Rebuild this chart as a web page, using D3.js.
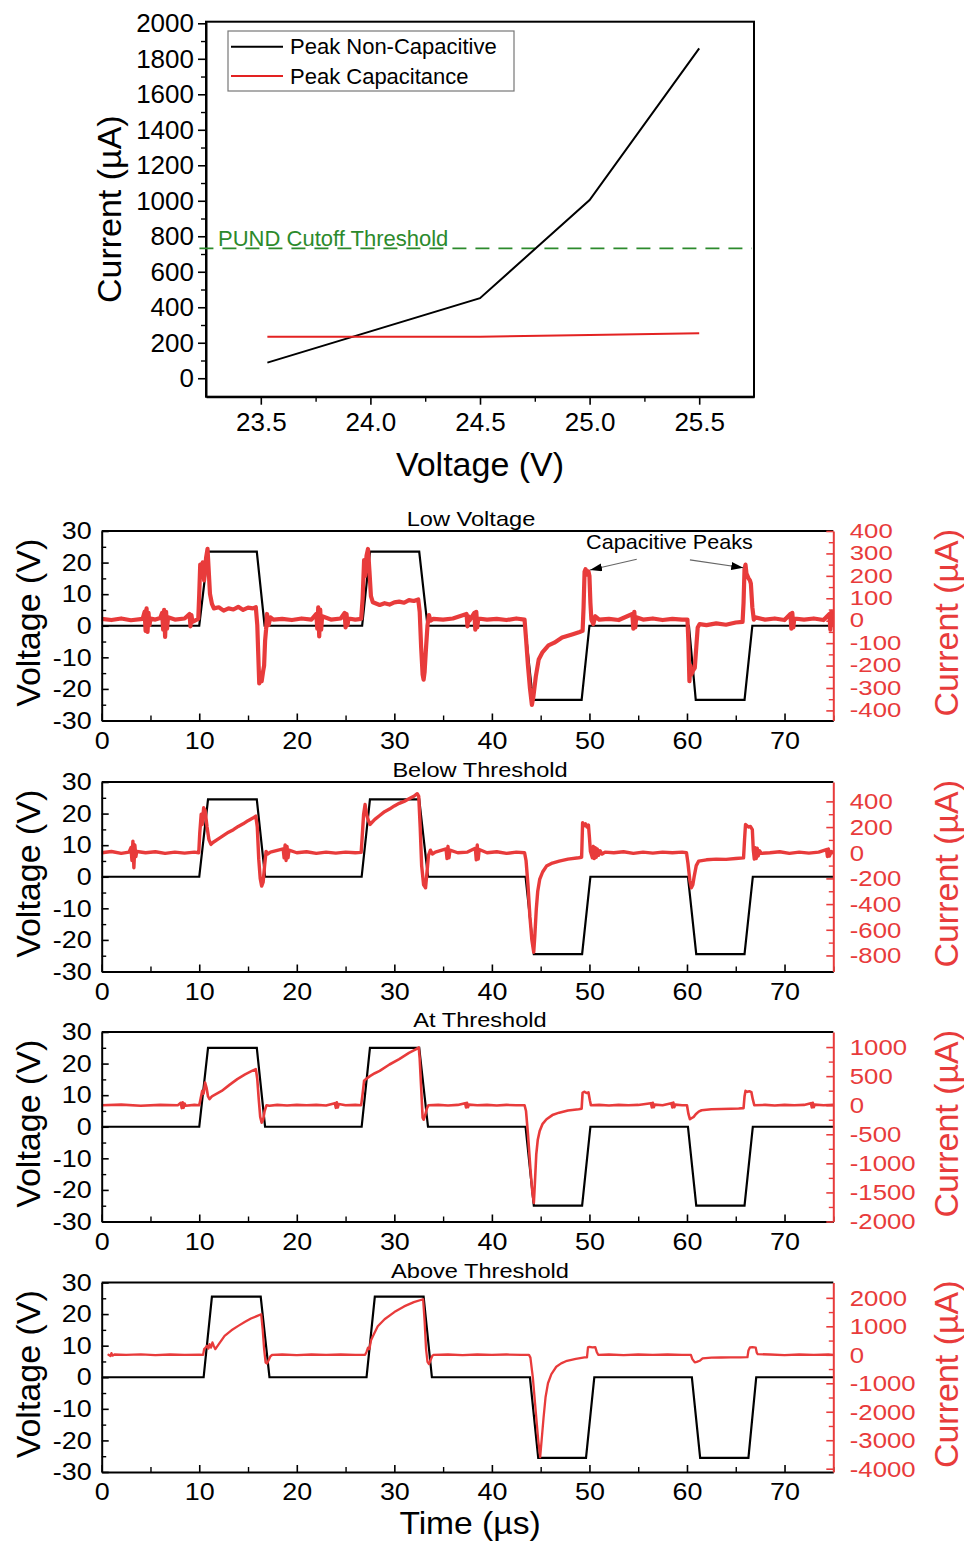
<!DOCTYPE html>
<html>
<head>
<meta charset="utf-8">
<script src="https://cdn.jsdelivr.net/npm/d3@7"></script>
<style>
  html, body { margin: 0; padding: 0; background: #fff; }
  svg { display: block; }
</style>
</head>
<body>
<svg id="fig" width="964" height="1544"></svg>
<script>
// ---------------- Peak current vs. pulse voltage ----------------
const peakVoltages = [23.53, 24.5, 25.0, 25.5];
const peakNonCapacitive = [88, 451, 1004, 1859];
const peakCapacitance = [234, 234, 243, 253];
const cutoffThreshold = 732;
const cutoffLabel = "PUND Cutoff Threshold";
const legendLabels = ["Peak Non-Capacitive", "Peak Capacitance"];
const summaryVoltTicks = [23.5, 24.0, 24.5, 25.0, 25.5];
const summaryCurrentTicks = [0, 200, 400, 600, 800, 1000, 1200, 1400, 1600, 1800, 2000];

// ---------------- PUND waveforms ----------------
const panelTitles = ["Low Voltage", "Below Threshold", "At Threshold", "Above Threshold"];
const timeTicks = [0, 10, 20, 30, 40, 50, 60, 70];
const voltTicks = [-30, -20, -10, 0, 10, 20, 30];
const currentTicks1 = [-400, -300, -200, -100, 0, 100, 200, 300, 400];
const currentTicks2 = [-800, -600, -400, -200, 0, 200, 400];
const currentTicks3 = [-2000, -1500, -1000, -500, 0, 500, 1000];
const currentTicks4 = [-4000, -3000, -2000, -1000, 0, 1000, 2000];
const currentExtents = [[-445, 400], [-925, 551], [-2000, 1259], [-4116, 2539]];

// applied voltage (t in µs, V)
const voltage1 = [[0,0],[10.0,0],[10.9,23.5],[15.9,23.5],[16.7,0],[26.7,0],[27.5,23.5],[32.55,23.5],[33.4,0],[43.4,0],[44.2,-23.5],[49.2,-23.5],[50.0,0],[60.2,0],[60.9,-23.5],[65.9,-23.5],[66.7,0],[75,0]];
const voltage2 = [[0,0],[10.0,0],[10.9,24.5],[15.9,24.5],[16.75,0],[26.65,0],[27.5,24.5],[32.55,24.5],[33.45,0],[43.45,0],[44.3,-24.5],[49.25,-24.5],[50.1,0],[60.1,0],[60.95,-24.5],[65.9,-24.5],[66.75,0],[75,0]];
const voltage3 = [[0,0],[10.0,0],[10.9,25],[15.9,25],[16.75,0],[26.65,0],[27.5,25],[32.55,25],[33.45,0],[43.45,0],[44.3,-25],[49.25,-25],[50.1,0],[60.1,0],[60.95,-25],[65.9,-25],[66.75,0],[75,0]];
const voltage4 = [[0,0],[10.45,0],[11.3,25.5],[16.3,25.5],[17.2,0],[27.15,0],[28.0,25.5],[33.0,25.5],[33.85,0],[43.9,0],[44.75,-25.5],[49.65,-25.5],[50.5,0],[60.5,0],[61.35,-25.5],[66.3,-25.5],[67.1,0],[75,0]];

// measured current (t in µs, µA)
const current1 = [[0,8],[1,3],[2,10],[3,2],[4.2,8],[4.4,40],[4.5,-45],[4.6,55],[4.7,-50],[4.8,35],[4.9,-20],[5.0,10],[5.5,5],[6.0,12],[6.2,35],[6.3,-40],[6.4,48],[6.5,-72],[6.6,40],[6.7,-35],[6.8,15],[7.5,5],[8.5,10],[9.0,30],[9.1,-25],[9.2,25],[9.3,-5],[9.9,8],
  [10.0,120],[10.1,250],[10.2,200],[10.35,260],[10.5,180],[10.7,280],[10.85,320],[10.95,240],[11.1,120],[11.3,75],[11.5,55],[12,60],[12.5,45],[13,55],[13.5,50],[14,62],[14.5,48],[15,58],[15.5,55],[15.8,60],
  [15.95,-20],[16.05,-150],[16.15,-280],[16.25,-240],[16.4,-270],[16.55,-225],[16.65,-200],[16.75,-90],[16.85,-40],[16.95,30],[17.1,-20],[17.3,15],[17.6,5],[18.5,8],[19.5,3],[20.5,10],[21.5,5],
  [22.0,30],[22.1,-35],[22.2,60],[22.3,-70],[22.4,50],[22.5,-40],[22.6,20],[23.5,5],[24.5,10],[24.9,35],[25.0,-30],[25.1,30],[25.2,-20],[25.3,10],[26.0,5],[26.6,8],
  [26.75,100],[26.9,270],[27.0,200],[27.15,290],[27.3,320],[27.45,220],[27.6,110],[27.8,82],[28.5,70],[29,78],[29.5,72],[30,82],[30.5,85],[31,80],[31.5,92],[32,88],[32.45,95],
  [32.6,40],[32.75,-120],[32.9,-240],[33.0,-263],[33.1,-230],[33.25,-120],[33.4,-20],[33.55,25],[33.7,0],[34,8],[35,5],[36,10],
  [37.4,30],[37.5,-25],[37.6,20],[37.7,0],[38.2,35],[38.3,-40],[38.4,40],[38.5,-30],[38.6,10],[39.5,5],[40.5,8],[41.5,3],[42.5,10],[43.35,5],
  [43.5,-80],[43.7,-200],[43.9,-300],[44.1,-375],[44.25,-340],[44.5,-250],[44.8,-173],[45.2,-140],[45.8,-110],[46.4,-98],[47.2,-75],[48.3,-60],[49.0,-50],[49.3,-45],
  [49.4,60],[49.5,218],[49.6,230],[49.75,205],[49.9,220],[50.0,200],[50.1,80],[50.2,5],[50.4,-15],[50.6,20],[51,5],[52,8],[53,3],
  [54.4,30],[54.5,-35],[54.6,40],[54.7,-30],[54.8,15],[55.5,5],[56.5,10],[57.5,3],[58.5,8],[59.5,5],[60.05,5],
  [60.15,-100],[60.25,-270],[60.35,-200],[60.45,-240],[60.6,-224],[60.8,-210],[60.95,-120],[61.1,-30],[61.3,-15],[62,-20],[63,-12],[64,-18],[65,-8],[65.7,-5],
  [65.8,80],[65.9,232],[66.0,250],[66.1,210],[66.3,190],[66.45,180],[66.55,165],[66.7,60],[66.85,5],[67.0,15],[68,5],[69,10],[70,3],
  [70.6,30],[70.7,-35],[70.8,35],[70.9,-30],[71.0,10],[72,5],[73,10],[74,3],[74.6,30],[74.7,-40],[74.8,40],[74.9,-20],[75,10]];

const current2 = [[0,0],[1,10],[2,-5],[2.8,5],[3.0,40],[3.1,-60],[3.2,90],[3.3,-117],[3.4,60],[3.5,-30],[3.6,10],[4.5,0],[5.5,8],[6.5,-5],[7.5,5],[8.5,-3],[9.5,5],[9.95,0],
  [10.05,150],[10.2,300],[10.3,220],[10.45,350],[10.6,330],[10.8,200],[11.0,100],[11.2,65],[11.4,80],[12,110],[12.5,135],[13,160],[13.5,180],[14,205],[14.5,225],[15,250],[15.5,270],[15.8,285],
  [15.95,200],[16.1,-50],[16.25,-200],[16.4,-260],[16.55,-230],[16.7,-100],[16.85,10],[17.0,-10],[17.3,5],
  [18.6,30],[18.7,-40],[18.8,60],[18.9,-60],[19.0,50],[19.1,-40],[19.2,20],[20,0],[21,8],[22,-5],[23,5],[24,-3],[25,5],[26,0],[26.6,3],
  [26.7,120],[26.85,300],[27.0,376],[27.15,300],[27.3,260],[27.5,220],[28,260],[28.5,290],[29,320],[29.5,340],[30,365],[30.5,385],[31,400],[31.5,420],[32,440],[32.35,460],[32.5,440],
  [32.65,200],[32.8,-100],[33.0,-250],[33.2,-273],[33.35,-150],[33.5,-20],[33.7,20],[33.9,-10],[34.2,5],
  [35.3,30],[35.4,-45],[35.5,50],[35.6,-40],[35.7,20],[36.5,0],[37.5,5],[38.3,35],[38.4,-55],[38.5,60],[38.6,-50],[38.7,25],[39.5,0],[40.5,8],[41.5,-5],[42.5,5],[43.35,0],
  [43.5,-60],[43.7,-250],[43.9,-500],[44.1,-680],[44.29,-775],[44.4,-650],[44.55,-442],[44.7,-300],[44.9,-208],[45.2,-150],[45.6,-104],[46.2,-80],[46.9,-65],[47.8,-50],[48.9,-39],[49.2,-35],
  [49.3,234],[49.45,210],[49.6,225],[49.75,200],[49.9,215],[50.0,120],[50.1,12],
  [50.3,-40],[50.4,50],[50.5,-45],[50.6,40],[50.7,-35],[50.8,30],[50.95,-20],[51.1,15],[51.3,-10],[51.6,5],[52.5,0],[53.5,8],[54.5,-5],[55.5,5],[56.5,-3],[57.5,5],[58.5,0],[59.5,5],[59.95,0],
  [60.1,-80],[60.3,-220],[60.45,-273],[60.6,-250],[60.75,-180],[60.95,-100],[61.2,-65],[62,-55],[63,-50],[64,-52],[65,-45],[65.8,-40],
  [65.9,100],[66.0,220],[66.15,210],[66.3,200],[66.5,205],[66.7,180],[66.8,20],
  [66.9,-50],[67.0,40],[67.1,-45],[67.2,35],[67.3,-25],[67.45,15],[67.6,-5],[68.5,0],[69.5,8],[70.5,-5],[71.5,5],[72.5,-3],[73.5,5],[74.3,25],[74.4,-30],[74.5,30],[74.6,-25],[74.8,10],[75,0]];

const current3 = [[0,0],[2,10],[4,-10],[6,5],[7.8,0],[8.1,40],[8.2,-50],[8.3,50],[8.4,-45],[8.5,30],[8.6,-10],[9.5,5],[10.0,0],
  [10.15,120],[10.3,246],[10.45,200],[10.6,390],[10.75,300],[10.9,150],[11.05,103],[11.3,150],[12.3,246],[13.1,350],[13.9,448],[14.7,530],[15.4,590],[15.8,620],
  [15.95,450],[16.1,100],[16.25,-200],[16.4,-300],[16.55,-250],[16.7,-100],[16.9,0],[17.2,-10],[18,5],[19,-5],[20,5],[21,0],[22,5],[23,-5],
  [23.9,35],[24.0,-45],[24.1,50],[24.2,-40],[24.3,20],[25,0],[26,5],[26.6,0],
  [26.75,200],[26.9,420],[27.1,450],[27.5,500],[28,550],[28.5,591],[29.5,700],[30.5,793],[31.5,900],[32.2,960],[32.5,993],
  [32.6,800],[32.75,300],[32.9,-213],[33.0,-250],[33.15,-180],[33.35,-50],[33.5,0],[34.5,5],[35.5,-5],[36.5,5],
  [37.25,35],[37.35,-40],[37.45,40],[37.55,-35],[37.65,10],[38.5,0],[39.5,5],[40.5,-5],[41.5,5],[42.5,0],[43.35,0],
  [43.5,-100],[43.7,-500],[43.95,-1100],[44.15,-1500],[44.3,-1680],[44.42,-1300],[44.55,-845],[44.7,-600],[44.9,-443],[45.2,-320],[45.6,-241],[46.2,-170],[46.9,-128],[47.8,-90],[48.9,-69],[49.2,-60],
  [49.3,217],[49.5,230],[49.7,210],[49.9,220],[50.05,80],[50.15,0],[51,5],[52,-5],[53,5],[54,0],[55,5],
  [56.3,35],[56.4,-40],[56.5,40],[56.6,-35],[56.7,10],[57.5,0],[58.4,35],[58.5,-40],[58.6,45],[58.7,-35],[58.8,10],[59.5,0],[60.0,0],
  [60.15,-150],[60.3,-241],[60.5,-220],[60.7,-200],[60.9,-155],[61.2,-110],[61.5,-86],[62.5,-70],[63.5,-65],[64.5,-60],[65.3,-57],[65.8,-50],
  [65.9,150],[66.0,246],[66.2,230],[66.4,240],[66.6,225],[66.75,100],[66.9,0],[68,5],[69,-5],[70,5],[71,0],[72,5],
  [72.7,35],[72.8,-40],[72.9,40],[73.0,-35],[73.1,10],[74,0],[75,5]];

const current4 = [[0.7,0],[0.9,-40],[1.0,60],[1.1,-30],[1.3,10],[2.5,0],[4,15],[5.5,-10],[7,10],[8.5,-5],[10.0,5],[10.4,0],
  [10.5,200],[10.65,250],[10.8,316],[10.95,220],[11.05,374],[11.2,250],[11.35,433],[11.5,300],[11.65,200],[11.95,350],[12.6,666],[13.3,860],[14.0,1016],[14.7,1160],[15.3,1273],[15.9,1360],[16.35,1425],
  [16.5,900],[16.65,200],[16.8,-268],[16.95,-303],[17.1,-200],[17.3,-50],[17.5,0],[18.5,10],[20,-10],[21.5,10],[23,-5],[24.5,10],[26,-5],[27.0,0],
  [27.15,100],[27.3,250],[27.45,200],[27.6,500],[27.8,650],[28.3,1000],[29,1250],[30,1500],[31,1700],[32,1850],[32.95,1950],
  [33.1,1200],[33.25,200],[33.4,-250],[33.55,-326],[33.7,-200],[33.9,-30],[34.05,0],[35.5,10],[37,-10],[38.5,10],[40,-5],[41.5,10],[43,0],[43.8,0],
  [43.95,-100],[44.2,-800],[44.5,-2000],[44.75,-3000],[44.95,-3594],[45.1,-3000],[45.3,-2200],[45.5,-1492],[45.75,-1000],[46.1,-676],[46.6,-420],[47.1,-300],[47.7,-210],[48.6,-140],[49.5,-92],[49.75,-90],
  [49.85,259],[50.0,280],[50.3,260],[50.6,270],[50.75,100],[50.9,0],[52,10],[53.5,-10],[55,10],[56.5,-5],[58,10],[59.5,-5],[60.4,0],
  [60.55,-150],[60.8,-268],[61.0,-250],[61.3,-210],[61.6,-127],[62.5,-100],[63.5,-95],[64.5,-92],[65.5,-90],[66.2,-85],
  [66.3,150],[66.45,259],[66.7,270],[66.9,260],[67.05,250],[67.15,80],[67.25,25],[68.5,10],[70,-10],[71.5,10],[73,0],[74.5,10],[75,0]];

// "Capacitive Peaks" callout on the first panel (t in µs, current in µA)
const calloutText = "Capacitive Peaks";
const calloutAnchor = [58.2, 320];
const calloutArrows = [[[54.85, 274], [50.06, 226]], [[60.3, 271], [65.77, 236]]];

// ---------------- drawing ----------------
const FONT = '"Liberation Sans", Arial, Helvetica, sans-serif';
const RED = "#e83b3b";
const GREEN = "#2c8a2c";
const svg = d3.select("#fig");

function label(parent, str, x, y, opt) {
  const t = `translate(${x},${y})` + (opt.rotate ? ` rotate(${opt.rotate})` : "") + (opt.sx ? ` scale(${opt.sx},1)` : "");
  const g = parent.append("g").attr("transform", t);
  g.append("text")
    .attr("text-anchor", opt.anchor || "middle")
    .attr("font-family", FONT)
    .attr("font-size", opt.size)
    .attr("fill", opt.fill || "#000")
    .text(str);
  return g;
}

function styleAxis(sel, size, color, sx) {
  sel.attr("font-family", FONT).attr("font-size", size).attr("color", color);
  sel.select(".domain").attr("stroke-width", 2);
  sel.selectAll(".tick line").attr("stroke-width", 1.6);
  if (sx) sel.selectAll(".tick text").attr("transform", `scale(${sx},1)`);
}

function minor(parent, gen, transform, color) {
  parent.append("g").attr("transform", transform).call(gen)
    .call(g => {
      g.select(".domain").remove();
      g.selectAll(".tick line").attr("stroke-width", 1.4);
      g.attr("color", color);
    });
}

function halfSteps(ticks) {
  const out = [];
  for (let i = 0; i < ticks.length - 1; i++) out.push((ticks[i] + ticks[i + 1]) / 2);
  return out;
}

// ===== summary chart =====
{
  const L = 206, R = 754, T = 21.7, B = 396.7;
  const x = d3.scaleLinear().domain([23.25, 25.75]).range([L, R]);
  const y = d3.scaleLinear().domain([-104, 2009]).range([B, T]);
  const g = svg.append("g");

  g.append("g").attr("transform", `translate(0,${B})`)
    .call(d3.axisBottom(x).tickValues(summaryVoltTicks).tickFormat(d3.format(".1f"))
      .tickSizeInner(8).tickSizeOuter(0).tickPadding(8))
    .call(s => styleAxis(s, 26, "#000"));
  minor(g, d3.axisBottom(x).tickValues(halfSteps(summaryVoltTicks)).tickSize(5).tickFormat(""), `translate(0,${B})`, "#000");

  g.append("g").attr("transform", `translate(${L},0)`)
    .call(d3.axisLeft(y).tickValues(summaryCurrentTicks).tickFormat(d3.format("d"))
      .tickSizeInner(8).tickSizeOuter(0).tickPadding(4))
    .call(s => styleAxis(s, 26, "#000"));
  minor(g, d3.axisLeft(y).tickValues(halfSteps(summaryCurrentTicks)).tickSize(5).tickFormat(""), `translate(${L},0)`, "#000");

  g.append("rect").attr("x", L).attr("y", T).attr("width", R - L).attr("height", B - T)
    .attr("fill", "none").attr("stroke", "#000").attr("stroke-width", 2);

  // cutoff threshold
  g.append("line")
    .attr("x1", x(23.22)).attr("x2", x(25.74))
    .attr("y1", y(cutoffThreshold)).attr("y2", y(cutoffThreshold))
    .attr("stroke", GREEN).attr("stroke-width", 1.8).attr("stroke-dasharray", "14,9");
  label(g, cutoffLabel, x(23.305), y(cutoffThreshold) - 2, { size: 22, anchor: "start", fill: GREEN });

  const line = d3.line().x(d => x(d[0])).y(d => y(d[1]));
  g.append("path").datum(d3.zip(peakVoltages, peakNonCapacitive)).attr("d", line)
    .attr("fill", "none").attr("stroke", "#000").attr("stroke-width", 2);
  g.append("path").datum(d3.zip(peakVoltages, peakCapacitance)).attr("d", line)
    .attr("fill", "none").attr("stroke", "#e32222").attr("stroke-width", 2);

  // legend
  const lg = g.append("g");
  lg.append("rect").attr("x", 228).attr("y", 31).attr("width", 286).attr("height", 60)
    .attr("fill", "#fff").attr("stroke", "#777").attr("stroke-width", 1.2);
  [["#000", legendLabels[0], 46.7], ["#e32222", legendLabels[1], 76]].forEach(([c, txt, yy]) => {
    lg.append("line").attr("x1", 231).attr("x2", 283).attr("y1", yy).attr("y2", yy)
      .attr("stroke", c).attr("stroke-width", 2);
    label(lg, txt, 290, yy + 7.5, { size: 22, anchor: "start" });
  });

  label(g, "Current (\u00b5A)", 121, (T + B) / 2, { size: 34, rotate: -90 });
  label(g, "Voltage (V)", 480, 476, { size: 34 });
}

// ===== waveform panels =====
const panels = [
  { title: panelTitles[0], volt: voltage1, curr: current1, ext: currentExtents[0], ticks: currentTicks1, top: 531, redW: 4.2, titleX: 471, rFont: 19.5, rSx: 1.32 },
  { title: panelTitles[1], volt: voltage2, curr: current2, ext: currentExtents[1], ticks: currentTicks2, top: 782, redW: 3.4, titleX: 480, rFont: 23, rSx: 1.12 },
  { title: panelTitles[2], volt: voltage3, curr: current3, ext: currentExtents[2], ticks: currentTicks3, top: 1032, redW: 2.6, titleX: 480, rFont: 23, rSx: 1.12 },
  { title: panelTitles[3], volt: voltage4, curr: current4, ext: currentExtents[3], ticks: currentTicks4, top: 1282.5, redW: 2.3, titleX: 480, rFont: 23, rSx: 1.12 }
];
const PL = 101.7, PR = 833.3, PH = 189.5, SX = 1.12;

const defs = svg.append("defs");
defs.append("marker").attr("id", "arrowhead")
  .attr("viewBox", "0 0 12 8").attr("refX", 12).attr("refY", 4)
  .attr("markerWidth", 12).attr("markerHeight", 8).attr("markerUnits", "userSpaceOnUse")
  .attr("orient", "auto")
  .append("path").attr("d", "M0,0 L12,4 L0,8 Z").attr("fill", "#000");

panels.forEach((p, i) => {
  const T = p.top, B = p.top + PH;
  const x = d3.scaleLinear().domain([0, 75]).range([PL, PR]);
  const yV = d3.scaleLinear().domain([-30, 30]).range([B, T]);
  const yI = d3.scaleLinear().domain(p.ext).range([B, T]);
  const g = svg.append("g");

  defs.append("clipPath").attr("id", `clip${i}`)
    .append("rect").attr("x", PL).attr("y", T).attr("width", PR - PL).attr("height", PH);

  const plot = g.append("g").attr("clip-path", `url(#clip${i})`);
  plot.append("path").datum(p.volt)
    .attr("d", d3.line().x(d => x(d[0])).y(d => yV(d[1])))
    .attr("fill", "none").attr("stroke", "#000").attr("stroke-width", 2.2);
  plot.append("path").datum(p.curr)
    .attr("d", d3.line().x(d => x(d[0])).y(d => yI(d[1])))
    .attr("fill", "none").attr("stroke", RED).attr("stroke-width", p.redW)
    .attr("stroke-linejoin", "round").attr("stroke-linecap", "round");

  // top frame
  g.append("line").attr("x1", PL).attr("x2", PR).attr("y1", T).attr("y2", T)
    .attr("stroke", "#000").attr("stroke-width", 2);

  // time axis
  g.append("g").attr("transform", `translate(0,${B})`)
    .call(d3.axisBottom(x).tickValues(timeTicks).tickSizeInner(-7).tickSizeOuter(0).tickPadding(11))
    .call(s => styleAxis(s, 24, "#000", SX));
  minor(g, d3.axisBottom(x).tickValues(timeTicks.map(v => v + 5)).tickSize(-5).tickFormat(""), `translate(0,${B})`, "#000");

  // voltage axis
  g.append("g").attr("transform", `translate(${PL},0)`)
    .call(d3.axisLeft(yV).tickValues(voltTicks).tickFormat(d => String(d)).tickSizeInner(-7).tickSizeOuter(0).tickPadding(9))
    .call(s => styleAxis(s, 24, "#000", SX));
  minor(g, d3.axisLeft(yV).tickValues(halfSteps(voltTicks)).tickSize(-4.5).tickFormat(""), `translate(${PL},0)`, "#000");

  // current axis
  g.append("g").attr("transform", `translate(${PR},0)`)
    .call(d3.axisRight(yI).tickValues(p.ticks).tickFormat(d => String(d)).tickSizeInner(-7).tickSizeOuter(0).tickPadding(16.5 / p.rSx))
    .call(s => styleAxis(s, p.rFont, RED, p.rSx));
  minor(g, d3.axisRight(yI).tickValues(halfSteps(p.ticks)).tickSize(-4.5).tickFormat(""), `translate(${PR},0)`, RED);

  label(g, p.title, p.titleX, T - 4.7, { size: 20, sx: 1.18 });
  label(g, "Voltage (V)", 40, (T + B) / 2 - 3, { size: 34, rotate: -90 });
  label(g, "Current (\u00b5A)", 958, (T + B) / 2 - 3, { size: 34, rotate: -90, fill: RED });

  if (i === 0) {
    calloutArrows.forEach(([from, to]) => {
      g.append("line")
        .attr("x1", x(from[0])).attr("y1", yI(from[1]))
        .attr("x2", x(to[0])).attr("y2", yI(to[1]))
        .attr("stroke", "#666").attr("stroke-width", 1.2)
        .attr("marker-end", "url(#arrowhead)");
    });
    label(g, calloutText, x(calloutAnchor[0]), yI(calloutAnchor[1]), { size: 20, sx: 1.08 });
  }
  if (i === panels.length - 1) {
    label(g, "Time (\u00b5s)", 470, 1534, { size: 32, sx: 1.05 });
  }
});
</script>
</body>
</html>
